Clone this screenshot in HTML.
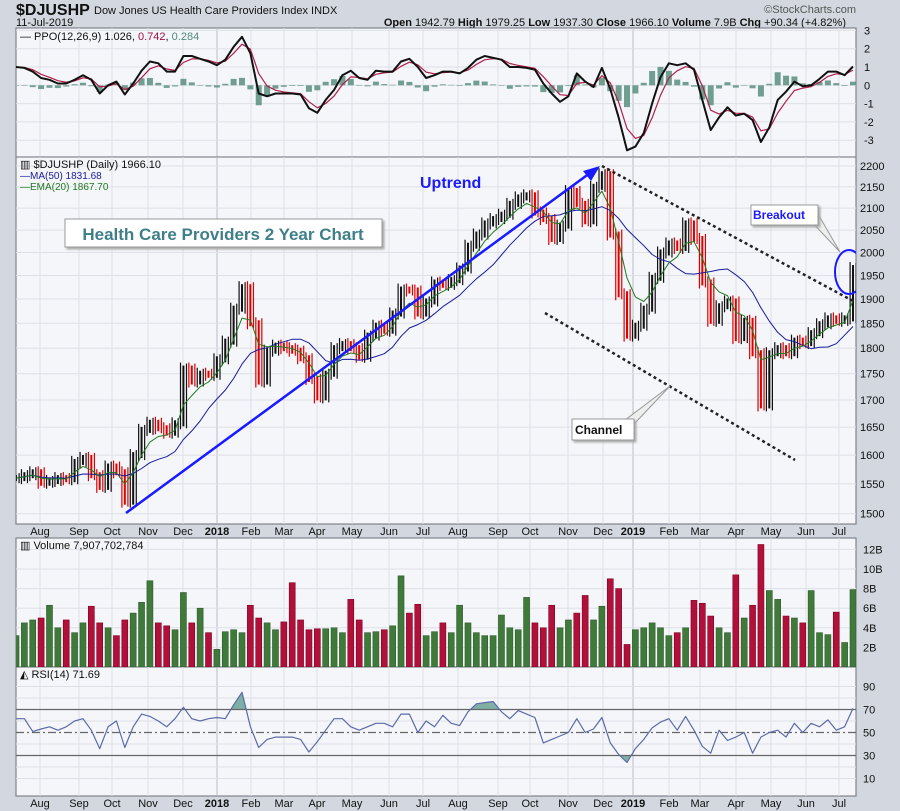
<!DOCTYPE html>
<html><head><meta charset="utf-8"><style>
html,body{margin:0;padding:0;background:#d3d7df;}
svg{display:block;font-family:"Liberation Sans",sans-serif;}
</style></head><body>
<svg id="chart" width="900" height="811" viewBox="0 0 900 811">
<rect x="0" y="0" width="900" height="811" fill="#d3d7df"/>
<text x="16" y="15" font-size="16" font-weight="bold" fill="#111">$DJUSHP</text>
<text x="94" y="14" font-size="11" fill="#111">Dow Jones US Health Care Providers Index  INDX</text>
<text x="16" y="26" font-size="11" fill="#111">11-Jul-2019</text>
<text x="856" y="13" font-size="11" fill="#555" text-anchor="end">©StockCharts.com</text>
<text x="846" y="26" font-size="11" fill="#111" text-anchor="end"><tspan font-weight="bold">Open</tspan> 1942.79  <tspan font-weight="bold">High</tspan> 1979.25  <tspan font-weight="bold">Low</tspan> 1937.30  <tspan font-weight="bold">Close</tspan> 1966.10  <tspan font-weight="bold">Volume</tspan> 7.9B  <tspan font-weight="bold">Chg</tspan> +90.34 (+4.82%)</text>
<g id="layer"></g>
</svg>
<script>
const closes=[1560,1565,1570,1552,1555,1560,1558,1588,1595,1565,1545,1580,1570,1520,1600,1645,1658,1648,1640,1657,1760,1735,1750,1748,1778,1813,1880,1925,1850,1735,1795,1805,1800,1795,1780,1740,1705,1750,1800,1808,1800,1783,1825,1845,1835,1870,1920,1918,1870,1895,1935,1930,1940,1965,2015,2040,2065,2075,2085,2110,2125,2130,2090,2075,2030,2060,2140,2110,2070,2150,2180,2040,1910,1825,1845,1880,1945,2000,2020,2010,2065,2030,1935,1855,1885,1895,1820,1855,1790,1690,1790,1800,1790,1815,1810,1830,1848,1860,1855,1860,1966];
const volumes=[3.2,4.5,4.8,5.0,6.3,4.0,4.8,3.5,4.5,6.2,4.5,4.0,3.2,4.8,5.5,6.6,8.8,4.5,4.2,3.8,7.6,4.5,6.0,3.5,1.8,3.6,3.8,3.5,6.3,5.0,4.5,3.8,4.6,8.6,4.8,3.8,3.9,3.9,4.0,3.5,6.9,4.8,3.5,3.6,3.8,4.2,9.3,5.5,6.4,3.2,3.6,4.5,3.5,6.3,4.5,3.5,3.2,3.2,5.3,4.0,3.8,7.1,4.5,4.0,6.3,4.0,4.8,5.5,7.3,4.8,6.2,9.0,8.0,2.3,3.8,4.0,4.5,4.0,3.2,3.5,4.0,6.8,6.5,5.2,4.0,3.5,9.4,5.0,6.3,12.5,7.8,6.9,5.2,5.0,4.5,7.8,3.5,3.3,5.6,2.5,7.9];
const rsiValues=[62,62,51,53,55,52,55,60,62,52,36,55,60,37,55,66,64,60,55,62,72,62,60,62,63,62,74,85,55,37,44,46,46,46,44,33,42,52,62,62,55,52,55,58,58,55,66,66,50,60,55,65,58,56,68,75,76,77,68,62,69,66,63,41,44,47,50,62,50,53,63,41,31,24,36,44,54,59,62,52,64,52,38,32,52,43,46,50,32,46,50,52,46,58,50,58,55,61,52,55,71];
const ppoValues=[1.0,0.95,0.75,0.4,0.3,0.1,0.1,0.3,0.55,0.3,-0.45,0,0.2,-0.5,0.1,0.8,1.3,1.2,0.75,0.75,1.6,1.6,1.45,1.3,1.1,1.4,2.1,2.65,1.75,-0.45,-0.6,-0.45,-0.45,-0.45,-0.5,-1.25,-1.5,-0.8,-0.25,0.55,0.8,0.4,0.3,0.8,0.75,0.75,1.3,1.45,1.0,0.4,0.55,0.75,0.75,0.65,0.95,1.4,1.6,1.5,1.4,1.0,1.0,0.95,0.85,0.1,-0.45,-0.9,-0.6,0.65,0.2,-0.1,0.95,-0.2,-1.75,-3.55,-3.35,-2.6,-1.0,0.45,1.2,1.1,1.2,0.85,-0.8,-2.45,-1.75,-1.2,-1.65,-1.55,-1.9,-3.1,-2.3,-0.8,-0.35,0.2,-0.05,0,0.35,0.75,0.75,0.55,1.03];
const priceTicks=[1500,1550,1600,1650,1700,1750,1800,1850,1900,1950,2000,2050,2100,2150,2200];
const ppoTicks=[3,2,1,0,-1,-2,-3];
const volTicks=[2,4,6,8,10,12];
const rsiTicks=[10,30,50,70,90];
const monthLabels=["Aug","Sep","Oct","Nov","Dec","2018","Feb","Mar","Apr","May","Jun","Jul","Aug","Sep","Oct","Nov","Dec","2019","Feb","Mar","Apr","May","Jun","Jul"];
const monthX=[40,79,112,148,183,217,251,284,317,352,389,423,458,498,530,568,603,633,669,700,736,771,806,839];

const NS="http://www.w3.org/2000/svg";
const layer=document.getElementById('layer');
const L=16,R=856;
function mk(tag,attrs,parent){const e=document.createElementNS(NS,tag);for(const k in attrs)e.setAttribute(k,attrs[k]);(parent||layer).appendChild(e);return e;}
const n=closes.length;
function xs(i){return L+i*(853-L)/(n-1);}
function yPrice(p){return 513.7-908*Math.log(p/1500);}
function yPpo(v){return 85.3-18.3*v;}
function yVol(v){return 667-9.8*v;}
function yRsi(r){return 790-1.15*r;}

const panels=[["ppo-panel",28,157],["price-panel",157,524],["volume-panel",538,667],["rsi-panel",667,796]];
panels.forEach(p=>{
  const r=mk('rect',{x:L,y:p[1],width:R-L,height:p[2]-p[1],fill:'#f5f6fa',stroke:'#6b6f78','stroke-width':1});
  
  
  monthX.forEach(x=>{const g=mk('line',{x1:x,x2:x,y1:p[1],y2:p[2],stroke:(x===217||x===633)?'#b8bcc4':'#dde0e6','stroke-width':1});
    
    });
});
const defs=mk('defs',{});
[["clipPpo",28,157],["clipPrice",157,524],["clipVol",538,667],["clipRsi",667,796]].forEach(c=>{const cp=mk('clipPath',{id:c[0]},defs);mk('rect',{x:L,y:c[1],width:R-L,height:c[2]-c[1]},cp);});

priceTicks.forEach(t=>{const y=yPrice(t);
  const g=mk('line',{x1:L,x2:R,y1:y,y2:y,stroke:'#dde0e6'});
  
  
  const tx=mk('text',{x:R+4,y:y+4,'font-size':11,fill:'#111'});tx.textContent=t;
  
  });
ppoTicks.forEach(t=>{const y=yPpo(t);
  const g=mk('line',{x1:L,x2:R,y1:y,y2:y,stroke:'#dde0e6'});
  
  
  const tx=mk('text',{x:R+8,y:y+4,'font-size':11,fill:'#111'});tx.textContent=t;
  
  });
volTicks.forEach(t=>{const y=yVol(t);
  const g=mk('line',{x1:L,x2:R,y1:y,y2:y,stroke:'#dde0e6'});
  
  
  const tx=mk('text',{x:R+7,y:y+4,'font-size':11,fill:'#111'});tx.textContent=t+'B';
  
  });
[10,20,40,60,80,90].forEach(t=>{const y=yRsi(t);
  const g=mk('line',{x1:L,x2:R,y1:y,y2:y,stroke:'#dde0e6'});
  
  });
rsiTicks.forEach(t=>{const y=yRsi(t);
  const tx=mk('text',{x:R+7,y:y+4,'font-size':11,fill:'#111'});tx.textContent=t;
  
  });

monthLabels.forEach((m,i)=>{[535,807].forEach(y=>{
  const tx=mk('text',{x:monthX[i],y:y,'font-size':11,fill:'#111','text-anchor':'middle','font-weight':/^20/.test(m)?'bold':'normal'});tx.textContent=m;
  
  });});

function ema(arr,a){const o=[];arr.forEach((v,i)=>o.push(i?o[i-1]+a*(v-o[i-1]):v));return o;}
const sig=ema(ppoValues,0.55);
const ma50=closes.map((c,i)=>{const s=closes.slice(Math.max(0,i-9),i+1);return s.reduce((a,b)=>a+b,0)/s.length;});
const ema20=ema(closes,2/(4+1));

const gP=mk('g',{'clip-path':'url(#clipPpo)'});
ppoValues.forEach((v,i)=>{const h=v-sig[i];const y0=yPpo(0),y1=yPpo(h);
  const b=mk('rect',{x:xs(i)-3,y:Math.min(y0,y1),width:6,height:Math.max(0.5,Math.abs(y1-y0)),fill:'#4f8a78',opacity:0.8},gP);
  
  });
function line(arr,fy,col,w,parent,name){const d=arr.map((v,i)=>(i?'L':'M')+xs(i).toFixed(1)+','+fy(v).toFixed(1)).join('');
  const p=mk('path',{d:d,fill:'none',stroke:col,'stroke-width':w,'stroke-linejoin':'round'},parent);
  
  return p;}
line(sig,yPpo,'#b0204a',1.2,gP,'ppo-signal-line');
line(ppoValues,yPpo,'#111',2,gP,'ppo-line');

const gPr=mk('g',{'clip-path':'url(#clipPrice)'});
closes.forEach((c,i)=>{const o=i?closes[i-1]:c;const up=c>=o;
  const y1=yPrice(Math.max(o,c))-6,y2=yPrice(Math.min(o,c))+6;
  const col=up?'#111':'#e00000';
  const w=mk('rect',{x:xs(i)-3.5,y:y1,width:1.2,height:y2-y1,fill:col},gPr);
  
  
  const b=mk('rect',{x:xs(i)-1,y:y1+3,width:2,height:Math.max(1,y2-y1-6),fill:col},gPr);
  
  
  const b2=mk('rect',{x:xs(i)+2.5,y:y1+1,width:1.2,height:y2-y1-2,fill:col},gPr);
  
  });
line(ma50,yPrice,'#1a1aa0',1,gPr,'ma50-line');
line(ema20,yPrice,'#1f7a1f',1,gPr,'ema20-line');

const gV=mk('g',{'clip-path':'url(#clipVol)'});
volumes.forEach((v,i)=>{const up=i===0||closes[i]>=closes[i-1];
  const b=mk('rect',{x:xs(i)-3,y:yVol(v),width:6,height:667-yVol(v),fill:up?'#3f7a3a':'#b0103a',stroke:up?'#2d5a2a':'#800020','stroke-width':0.6},gV);
  
  });

const gR=mk('g',{'clip-path':'url(#clipRsi)'});
const cpHi=mk('clipPath',{id:'rsiHi'},defs);mk('rect',{x:L,y:667,width:R-L,height:yRsi(70)-667},cpHi);
const cpLo=mk('clipPath',{id:'rsiLo'},defs);mk('rect',{x:L,y:yRsi(30),width:R-L,height:796-yRsi(30)},cpLo);
const rd=rsiValues.map((v,i)=>(i?'L':'M')+xs(i).toFixed(1)+','+yRsi(v).toFixed(1)).join('');
const fh=mk('path',{d:rd+'L'+xs(n-1)+','+yRsi(70)+'L'+xs(0)+','+yRsi(70)+'Z',fill:'#7fb0a6','clip-path':'url(#rsiHi)'},gR);


const fl=mk('path',{d:rd+'L'+xs(n-1)+','+yRsi(30)+'L'+xs(0)+','+yRsi(30)+'Z',fill:'#7fb0a6','clip-path':'url(#rsiLo)'},gR);


[[70,'none'],[30,'none'],[50,'8,3,2,3']].forEach(t=>{const y=yRsi(t[0]);
  const g=mk('line',{x1:L,x2:R,y1:y,y2:y,stroke:'#666','stroke-width':1.2,'stroke-dasharray':t[1]},gR);
  
  });
line(rsiValues,yRsi,'#5c6aa8',1.2,gR,'rsi-line');

function txt(x,y,s,col,size,name,weight){const t=mk('text',{x:x,y:y,'font-size':size,fill:col,'font-weight':weight||'normal'});t.textContent=s;
  
  return t;}
const lg=mk('text',{x:20,y:40,'font-size':11,fill:'#111'});
lg.innerHTML='— PPO(12,26,9) 1.026, <tspan fill="#a01040">0.742</tspan>, <tspan fill="#4f8a78">0.284</tspan>';


txt(20,168,'▥ $DJUSHP (Daily) 1966.10','#111',11,'price-legend');
txt(20,179,'—MA(50) 1831.68','#1a1aa0',10,'ma50-legend');
txt(20,190,'—EMA(20) 1867.70','#1f7a1f',10,'ema20-legend');
txt(20,549,'▥ Volume 7,907,702,784','#111',11,'volume-legend');
txt(20,678,'◭ RSI(14) 71.69','#111',11,'rsi-legend');

const an=mk('g',{'clip-path':'url(#clipPrice)'});
const tb=mk('rect',{x:65,y:219,width:317,height:28,fill:'#fff',stroke:'#999',style:'filter:drop-shadow(2px 2px 1px #aaa)'},an);


const tt=mk('text',{x:223,y:240,'font-size':17,'font-weight':'bold',fill:'#3f7f8a','text-anchor':'middle'},an);tt.textContent='Health Care Providers 2 Year Chart';


const ul=mk('line',{x1:126,y1:513,x2:590,y2:173,stroke:'#1a1aff','stroke-width':2.5},an);


const ua=mk('polygon',{points:'600,166 583,171 591,181',fill:'#1a1aff'},an);


const ut=mk('text',{x:420,y:188,'font-size':16,'font-weight':'bold',fill:'#1a1aff'},an);ut.textContent='Uptrend';


const c1=mk('line',{x1:602,y1:166,x2:855,y2:302,stroke:'#222','stroke-width':2.5,'stroke-dasharray':'3,3'},an);


const c2=mk('line',{x1:545,y1:313,x2:795,y2:460,stroke:'#222','stroke-width':2.5,'stroke-dasharray':'3,3'},an);


const cp1=mk('polygon',{points:'625,420 670,386 635,423',fill:'#eee',stroke:'#999'},an);


const cb=mk('rect',{x:572,y:419,width:62,height:21,fill:'#fff',stroke:'#999',style:'filter:drop-shadow(2px 2px 1px #aaa)'},an);


const ct=mk('text',{x:575,y:434,'font-size':12,'font-weight':'bold',fill:'#111'},an);ct.textContent='Channel';


const bp=mk('polygon',{points:'808,218 840,252 818,214',fill:'#eee',stroke:'#999'},an);


const bb=mk('rect',{x:751,y:205,width:67,height:20,fill:'#fff',stroke:'#999',style:'filter:drop-shadow(2px 2px 1px #aaa)'},an);


const bt=mk('text',{x:753,y:219,'font-size':12,'font-weight':'bold',fill:'#1a1aff'},an);bt.textContent='Breakout';


const el=mk('ellipse',{cx:849,cy:272,rx:14,ry:22,fill:'none',stroke:'#1a1aff','stroke-width':2},an);


</script>
</body></html>
